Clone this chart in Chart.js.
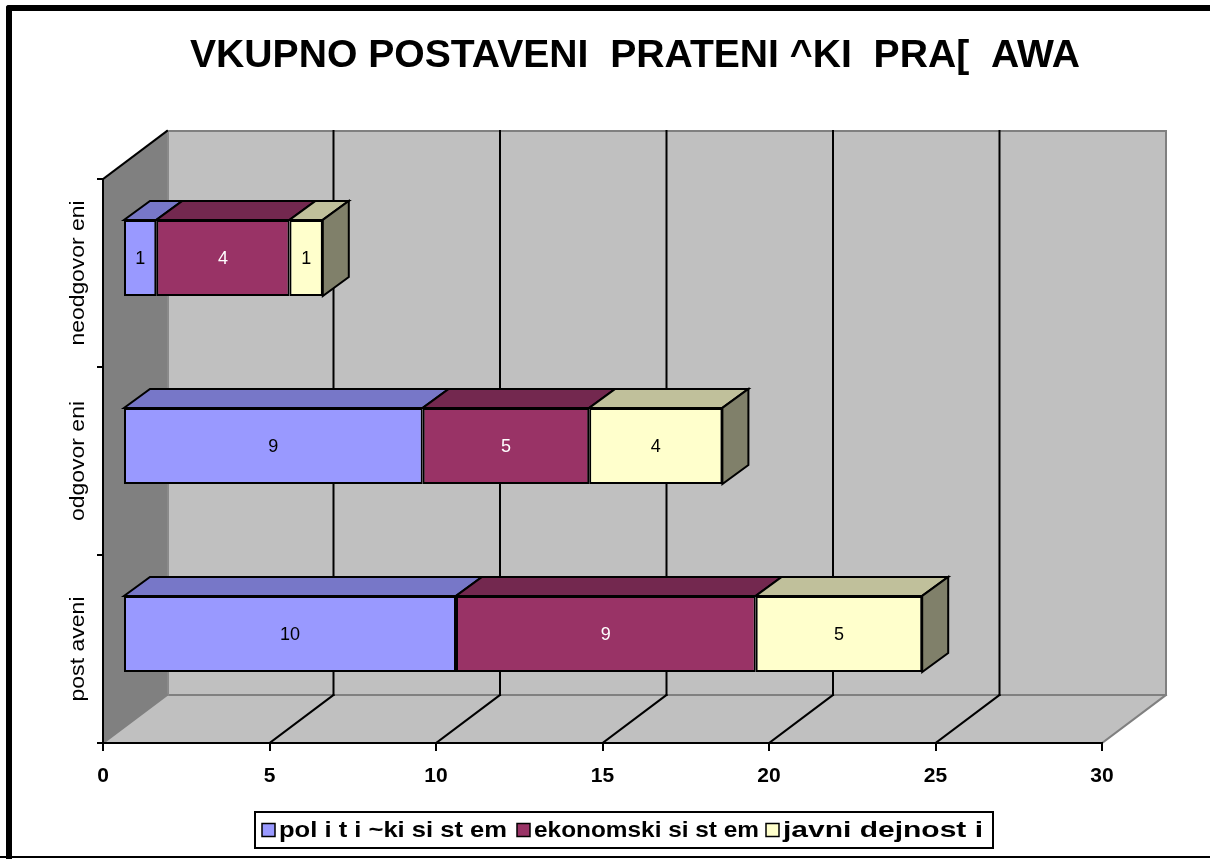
<!DOCTYPE html>
<html><head><meta charset="utf-8">
<script src="https://cdn.jsdelivr.net/npm/chart.js@4.4.1/dist/chart.umd.min.js"></script>
<style>html,body{margin:0;padding:0;background:#fff;overflow:hidden;} canvas{display:block;}</style>
</head><body>
<canvas id="c" width="1210" height="859"></canvas>
<script>
const chartTitle = 'VKUPNO POSTAVENI  PRATENI ^KI  PRA[  AWA';
const categories = ['neodgovor eni', 'odgovor eni', 'post aveni'];
const seriesNames = ['pol i t i ~ki si st em', 'ekonomski si st em', 'javni dejnost i'];
const politicki = [1, 9, 10];
const ekonomski = [4, 5, 9];
const javni = [1, 4, 5];
const xMin = 0, xMax = 30, xStep = 5;

const frontColors = ['#9999FF', '#993366', '#FFFFCC'];
const topColors = ['#7777C8', '#73284F', '#C0C09B'];
const sideColors = ['#5C5C99', '#5C1F3D', '#80806A'];
const labelColors = ['#000000', '#FFFFFF', '#000000'];

const WALL = {dx: 64, dy: -48};
const SHIFT = {dx: 20, dy: -15};
const DEPTH = {dx: 26, dy: -19};
const FONT = '"Liberation Sans", Arial, sans-serif';
const catLabelWidths = [145, 120, 105];
const legendWidths = [228, 225, 200];

function poly(ctx, pts, fill, stroke, lw) {
  ctx.beginPath();
  ctx.moveTo(pts[0][0], pts[0][1]);
  for (let i = 1; i < pts.length; i++) ctx.lineTo(pts[i][0], pts[i][1]);
  ctx.closePath();
  if (fill) { ctx.fillStyle = fill; ctx.fill(); }
  if (stroke) { ctx.strokeStyle = stroke; ctx.lineWidth = lw; ctx.lineJoin = 'miter'; ctx.stroke(); }
}
function line(ctx, x1, y1, x2, y2, color, lw) {
  ctx.beginPath(); ctx.moveTo(x1, y1); ctx.lineTo(x2, y2);
  ctx.strokeStyle = color; ctx.lineWidth = lw; ctx.stroke();
}
// draw text horizontally scaled so that it spans the target width
function fitText(ctx, text, x, y, target) {
  const w = ctx.measureText(text).width;
  const s = target / w;
  ctx.save();
  ctx.translate(x, y);
  ctx.scale(s, 1);
  ctx.fillText(text, 0, 0);
  ctx.restore();
}

const threeD = {
  id: 'threeD',
  beforeDraw(chart) {
    const {ctx, chartArea: a, scales: {x}} = chart;
    ctx.save();
    ctx.fillStyle = '#fff';
    ctx.fillRect(0, 0, chart.width, chart.height);
    ctx.lineCap = 'round';
    line(ctx, 9, 8, 1215, 8, '#000', 6);
    line(ctx, 9, 8, 9, 870, '#000', 6);
    ctx.lineCap = 'butt';
    line(ctx, 0, 857, 1210, 857, '#000', 2);
    const dx = WALL.dx, dy = WALL.dy;
    poly(ctx, [[a.left+dx, a.top+dy],[a.right+dx, a.top+dy],[a.right+dx, a.bottom+dy],[a.left+dx, a.bottom+dy]], '#C0C0C0', null);
    poly(ctx, [[a.left, a.top],[a.left+dx, a.top+dy],[a.left+dx, a.bottom+dy],[a.left, a.bottom]], '#808080', null);
    poly(ctx, [[a.left, a.bottom],[a.left+dx, a.bottom+dy],[a.right+dx, a.bottom+dy],[a.right, a.bottom]], '#C0C0C0', null);
    ctx.lineCap = 'square';
    line(ctx, a.left+dx, a.top+dy, a.right+dx, a.top+dy, '#808080', 2);
    line(ctx, a.right+dx, a.top+dy, a.right+dx, a.bottom+dy, '#808080', 2);
    line(ctx, a.left+dx, a.bottom+dy, a.right+dx, a.bottom+dy, '#808080', 2);
    line(ctx, a.left+dx+1, a.top+dy, a.left+dx+1, a.bottom+dy, '#8a8a8a', 2);
    line(ctx, a.left, a.bottom, a.left+dx, a.bottom+dy, '#808080', 2);
    line(ctx, a.right, a.bottom, a.right+dx, a.bottom+dy, '#808080', 2);
    line(ctx, a.left, a.top, a.left+dx, a.top+dy, '#000', 2);
    for (let v = xMin + xStep; v < xMax; v += xStep) {
      const px = x.getPixelForValue(v);
      line(ctx, px+dx, a.top+dy, px+dx, a.bottom+dy, '#000', 2);
      line(ctx, px, a.bottom, px+dx, a.bottom+dy, '#000', 2);
    }
    ctx.restore();
  },
  beforeDatasetsDraw(chart) {
    chart.ctx.save();
    chart.ctx.translate(SHIFT.dx, SHIFT.dy);
  },
  afterDatasetsDraw(chart) {
    const ctx = chart.ctx;
    const n = categories.length;
    for (let i = 0; i < n; i++) {
      let lastEl = null, lastD = -1;
      for (let d = 0; d < chart.data.datasets.length; d++) {
        const el = chart.getDatasetMeta(d).data[i];
        const p = el.getProps(['x', 'y', 'base', 'height'], true);
        const l = Math.min(p.x, p.base), r = Math.max(p.x, p.base);
        const t = p.y - p.height / 2;
        poly(ctx, [[l, t],[r, t],[r+DEPTH.dx, t+DEPTH.dy],[l+DEPTH.dx, t+DEPTH.dy]], topColors[d], '#000', 2);
        if (r - l > 0) { lastEl = p; lastD = d; }
        ctx.fillStyle = labelColors[d];
        ctx.font = '18px ' + FONT;
        ctx.textAlign = 'center';
        ctx.textBaseline = 'middle';
        ctx.fillText(String(chart.data.datasets[d].data[i]), (l + r) / 2, p.y + 1);
      }
      if (lastEl) {
        const r = Math.max(lastEl.x, lastEl.base);
        const t = lastEl.y - lastEl.height / 2, b = lastEl.y + lastEl.height / 2;
        poly(ctx, [[r, t],[r+DEPTH.dx, t+DEPTH.dy],[r+DEPTH.dx, b+DEPTH.dy],[r, b]], sideColors[lastD], '#000', 2);
      }
    }
    ctx.restore();
  },
  afterDraw(chart) {
    const {ctx, scales: {y}} = chart;
    ctx.save();
    ctx.fillStyle = '#000';
    ctx.font = 'bold 39px ' + FONT;
    ctx.textAlign = 'center';
    ctx.textBaseline = 'middle';
    fitText(ctx, chartTitle, 635, 56, 890);
    ctx.font = '21px ' + FONT;
    categories.forEach((c, i) => {
      const py = y.getPixelForValue(i);
      ctx.save();
      ctx.translate(78, py);
      ctx.rotate(-Math.PI / 2);
      ctx.textAlign = 'center';
      ctx.textBaseline = 'middle';
      fitText(ctx, c, 0, 0, catLabelWidths[i]);
      ctx.restore();
    });
    const box = {l: 255, t: 812, r: 993, b: 848};
    ctx.lineWidth = 2;
    ctx.strokeStyle = '#000';
    ctx.strokeRect(box.l, box.t, box.r - box.l, box.b - box.t);
    const itemX = [262, 517, 766];
    ctx.font = 'bold 22px ' + FONT;
    ctx.textAlign = 'left';
    ctx.textBaseline = 'middle';
    seriesNames.forEach((s, i) => {
      const cy = (box.t + box.b) / 2;
      ctx.fillStyle = frontColors[i];
      ctx.fillRect(itemX[i], cy - 6.5, 13, 13);
      ctx.lineWidth = 1.5;
      ctx.strokeRect(itemX[i], cy - 6.5, 13, 13);
      ctx.fillStyle = '#000';
      fitText(ctx, s, itemX[i] + 17, cy + 1, legendWidths[i]);
    });
    ctx.restore();
  }
};

new Chart(document.getElementById('c'), {
  type: 'bar',
  data: {
    labels: categories,
    datasets: [
      {label: seriesNames[0], data: politicki, backgroundColor: frontColors[0]},
      {label: seriesNames[1], data: ekonomski, backgroundColor: frontColors[1]},
      {label: seriesNames[2], data: javni, backgroundColor: frontColors[2]}
    ].map(ds => Object.assign(ds, {borderColor: '#000', borderWidth: 2, borderSkipped: false, categoryPercentage: 1, barPercentage: 0.405, clip: false}))
  },
  options: {
    indexAxis: 'y',
    responsive: false,
    animation: false,
    devicePixelRatio: 1,
    layout: {padding: {top: 179, right: 108, bottom: 66, left: 0}},
    plugins: {legend: {display: false}, title: {display: false}, tooltip: {enabled: false}},
    scales: {
      x: {
        stacked: true, min: xMin, max: xMax,
        ticks: {stepSize: xStep, color: '#000', font: {family: FONT, weight: 'bold', size: 21}, padding: 13, maxRotation: 0},
        grid: {drawOnChartArea: false, drawTicks: true, tickLength: 8, color: '#000', lineWidth: 2},
        border: {display: true, color: '#000', width: 2},
        afterFit: s => { s.height = 50; }
      },
      y: {
        stacked: true,
        ticks: {display: false},
        grid: {offset: true, drawOnChartArea: false, drawTicks: true, tickLength: 6, color: '#000', lineWidth: 2},
        border: {display: true, color: '#000', width: 2},
        afterFit: s => { s.width = 103; }
      }
    }
  },
  plugins: [threeD]
});
</script>
</body></html>
